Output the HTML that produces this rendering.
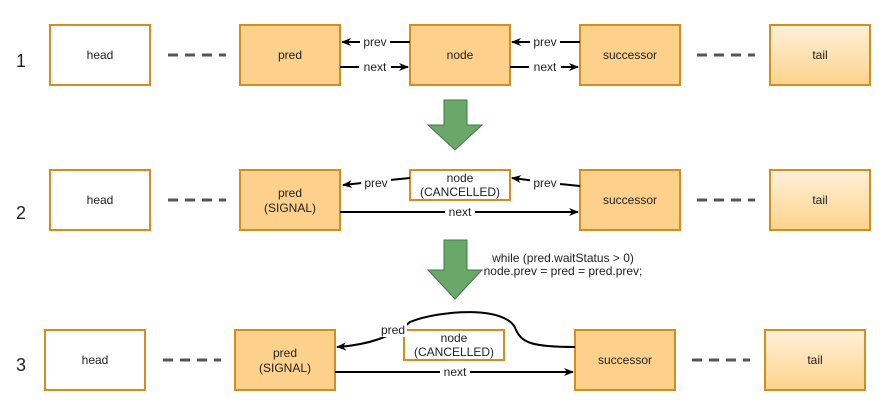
<!DOCTYPE html>
<html><head><meta charset="utf-8"><style>
body{margin:0;background:#fff;}
svg{display:block;font-family:"Liberation Sans",Arial,sans-serif;}
</style></head><body>
<svg width="890" height="410" viewBox="0 0 890 410" xmlns="http://www.w3.org/2000/svg">
<defs>
<linearGradient id="tg" x1="0" y1="0" x2="0" y2="1"><stop offset="0" stop-color="#fff0d9"/><stop offset="1" stop-color="#fdd38c"/></linearGradient>
<marker id="ah" markerWidth="10" markerHeight="8" refX="9" refY="4" orient="auto" markerUnits="userSpaceOnUse"><path d="M0,0 L10,4 L0,8 L3,4 Z" fill="#000"/></marker>
</defs>
<g font-size="18" fill="#222"><text x="16" y="67">1</text><text x="16" y="219">2</text><text x="16" y="371">3</text></g>
<g stroke="#d08f1f" stroke-width="2" font-size="12" text-anchor="middle" fill="#222">
<!-- row1 -->
<rect x="50" y="25" width="100" height="60" fill="#fff"/>
<rect x="240" y="25" width="100" height="60" fill="#fdd08b"/>
<rect x="410" y="25" width="100" height="60" fill="#fdd08b"/>
<rect x="580" y="25" width="100" height="60" fill="#fdd08b"/>
<rect x="770" y="25" width="100" height="60" fill="url(#tg)"/>
<!-- row2 -->
<rect x="50" y="170" width="100" height="60" fill="#fff"/>
<rect x="240" y="170" width="100" height="60" fill="#fdd08b"/>
<rect x="410" y="170" width="100" height="30" fill="#fff"/>
<rect x="580" y="170" width="100" height="60" fill="#fdd08b"/>
<rect x="770" y="170" width="100" height="60" fill="url(#tg)"/>
<!-- row3 -->
<rect x="45" y="330" width="100" height="60" fill="#fff"/>
<rect x="235" y="330" width="100" height="60" fill="#fdd08b"/>
<rect x="404" y="330" width="100" height="30" fill="#fff"/>
<rect x="575" y="330" width="100" height="60" fill="#fdd08b"/>
<rect x="765" y="330" width="100" height="60" fill="url(#tg)"/>
</g>
<g font-size="12" text-anchor="middle" fill="#222">
<text x="100" y="59">head</text><text x="290" y="59">pred</text><text x="460" y="59">node</text><text x="630" y="59">successor</text><text x="820" y="59">tail</text>
<text x="100" y="204">head</text><text x="290" y="197">pred</text><text x="290" y="212">(SIGNAL)</text>
<text x="460" y="182">node</text><text x="460" y="196">(CANCELLED)</text><text x="630" y="204">successor</text><text x="820" y="204">tail</text>
<text x="95" y="364">head</text><text x="285" y="357">pred</text><text x="285" y="372">(SIGNAL)</text>
<text x="454" y="342">node</text><text x="454" y="356">(CANCELLED)</text><text x="625" y="364">successor</text><text x="815" y="364">tail</text>
</g>
<g stroke="#555" stroke-width="3" stroke-dasharray="10,7">
<line x1="168" y1="55" x2="226" y2="55"/><line x1="697" y1="55" x2="755" y2="55"/>
<line x1="168" y1="200" x2="226" y2="200"/><line x1="697" y1="200" x2="755" y2="200"/>
<line x1="163" y1="360" x2="221" y2="360"/><line x1="692" y1="360" x2="750" y2="360"/>
</g>
<g stroke="#000" stroke-width="2" fill="none">
<line x1="410" y1="42" x2="342" y2="42" marker-end="url(#ah)"/>
<line x1="340" y1="67" x2="408" y2="67" marker-end="url(#ah)"/>
<line x1="580" y1="42" x2="512" y2="42" marker-end="url(#ah)"/>
<line x1="510" y1="67" x2="578" y2="67" marker-end="url(#ah)"/>
<path d="M410,178 L390,180 L343,185" marker-end="url(#ah)"/>
<path d="M580,186 L560,184 L512,178" marker-end="url(#ah)"/>
<line x1="340" y1="212" x2="578" y2="212" marker-end="url(#ah)"/>
<line x1="335" y1="372" x2="573" y2="372" marker-end="url(#ah)"/>
<path d="M575,347 C530,347 522,342 516,330 C508,305 440,310 410,322 C395,335 370,345 337,347" marker-end="url(#ah)"/>
</g>
<g font-size="12" text-anchor="middle" fill="#222">
<rect x="360" y="35" width="30" height="14" fill="#fff"/><text x="375" y="46">prev</text>
<rect x="359" y="60" width="32" height="14" fill="#fff"/><text x="375" y="71">next</text>
<rect x="530" y="35" width="30" height="14" fill="#fff"/><text x="545" y="46">prev</text>
<rect x="529" y="60" width="32" height="14" fill="#fff"/><text x="545" y="71">next</text>
<rect x="361" y="176" width="30" height="14" fill="#fff"/><text x="376" y="187">prev</text>
<rect x="530" y="176" width="30" height="14" fill="#fff"/><text x="545" y="187">prev</text>
<rect x="445" y="205" width="30" height="14" fill="#fff"/><text x="460" y="216">next</text>
<rect x="440" y="365" width="30" height="14" fill="#fff"/><text x="455" y="376">next</text>
<rect x="379" y="323" width="28" height="14" fill="#fff"/><text x="393" y="334">pred</text>
<text x="563" y="262">while (pred.waitStatus &gt; 0)</text>
<text x="563" y="275">node.prev = pred = pred.prev;</text>
</g>
<g fill="#6aa86a" stroke="#3f7a3f" stroke-width="1">
<path d="M444,100 H467 V125 H482 L455,150 L428,125 H444 Z"/>
<path d="M444,240 H467 V270 H482 L455,299 L428,270 H444 Z"/>
</g>
</svg>
</body></html>
